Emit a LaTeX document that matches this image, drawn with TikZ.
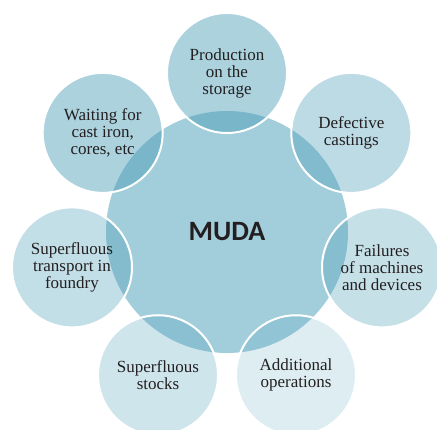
\documentclass[tikz,border=0pt]{standalone}
\usepackage{fontspec}
\setmainfont{Liberation Serif}
\newfontfamily\mudafont{Carlito}
\usepackage{tikz}

\definecolor{mudablue}{RGB}{70,155,182}
\definecolor{mudatext}{RGB}{35,31,32}

\begin{document}
\begin{tikzpicture}[x=1pt,y=1pt,
	waste/.style={circle, draw=white, line width=2pt, fill=mudablue, minimum size=120pt, inner sep=0pt,
		align=center, text=mudatext, text opacity=1, font=\fontsize{17}{17}\selectfont}]
			\useasboundingbox (0,0) rectangle (437,430);
			\clip (0,0) rectangle (437,430);
			
			\node[circle, fill=mudablue, fill opacity=0.5, text opacity=1, minimum size=242pt, text=mudatext,
				font=\mudafont\bfseries\fontsize{28}{28}\selectfont] (muda) at (227,198) {MUDA};
			
			\node[waste, fill opacity=0.45] (storage) at ([shift={(90:159)}]muda.center) {Production\\on the\\storage};
			\node[waste, fill opacity=0.36] (defects) at ([shift={(38.57:159)}]muda.center) {Defective\\castings};
			\node[waste, fill opacity=0.31] (failures) at ([shift={(-12.86:159)}]muda.center) {Failures\\of machines\\and devices};
			\node[waste, fill opacity=0.18] (operations) at ([shift={(-64.29:159)}]muda.center) {Additional\\operations};
			\node[waste, fill opacity=0.26] (stocks) at ([shift={(-115.71:159)}]muda.center) {Superfluous\\stocks};
			\node[waste, fill opacity=0.33] (transport) at ([shift={(-167.14:159)}]muda.center) {Superfluous\\transport in\\foundry};
			\node[waste, fill opacity=0.45] (waiting) at ([shift={(141.43:159)}]muda.center) {Waiting for\\cast iron,\\cores, etc};
		\end{tikzpicture}
\end{document}
